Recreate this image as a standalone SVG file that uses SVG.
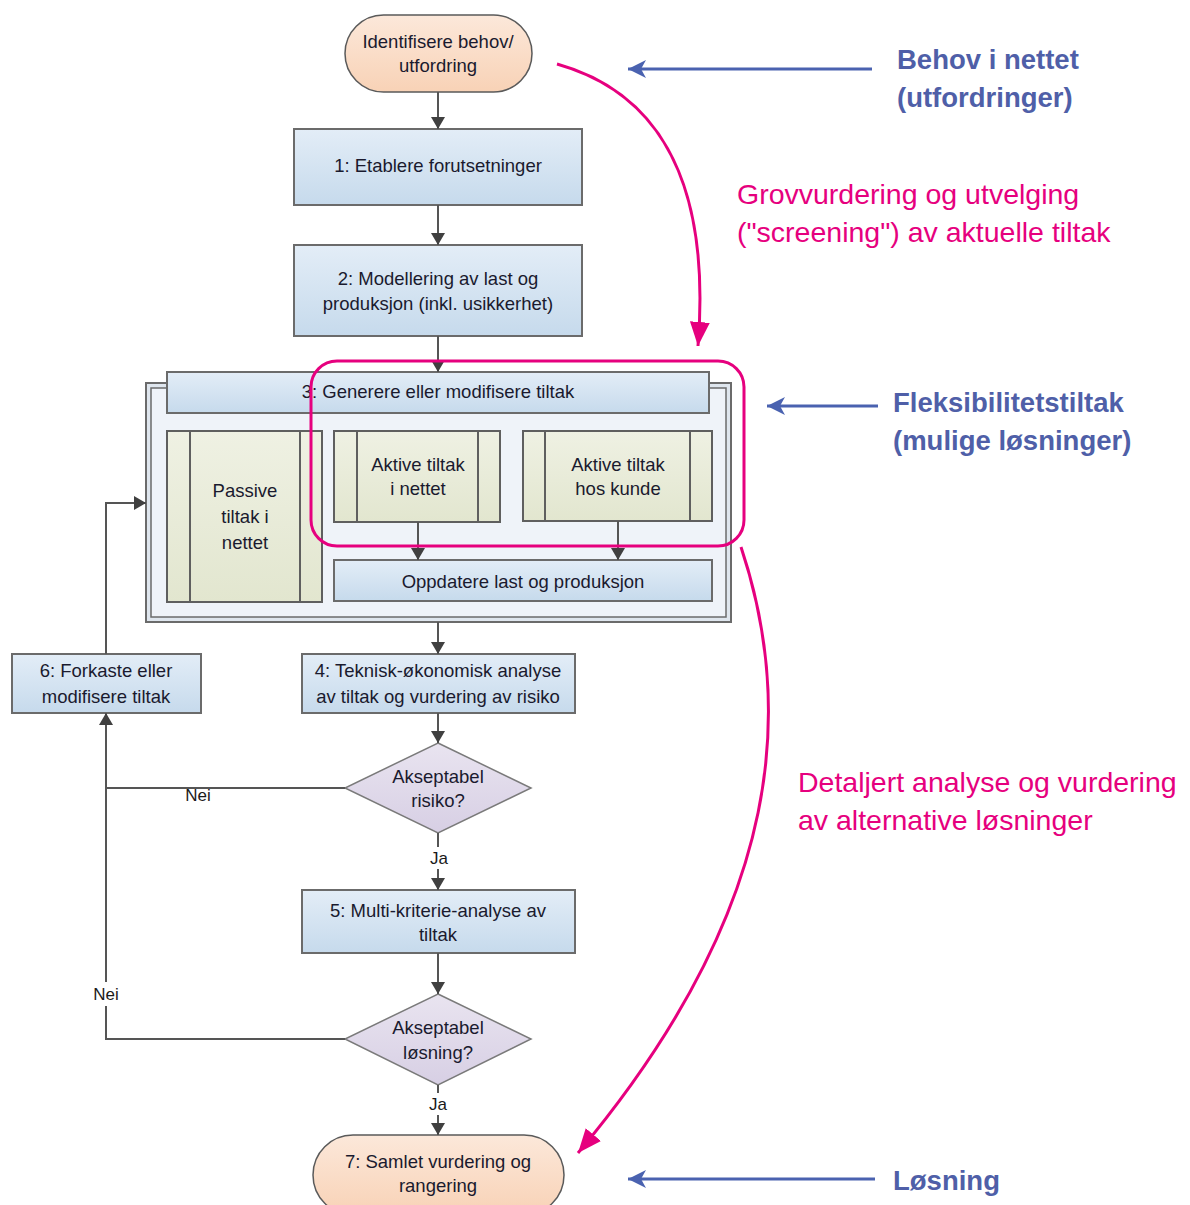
<svg xmlns="http://www.w3.org/2000/svg" width="1190" height="1205" viewBox="0 0 1190 1205">
<defs>
<linearGradient id="gBlue" x1="0" y1="0" x2="0" y2="1"><stop offset="0" stop-color="#e3edf7"/><stop offset="1" stop-color="#c6daec"/></linearGradient>
<linearGradient id="gPeach" x1="0" y1="0" x2="0" y2="1"><stop offset="0" stop-color="#fce8da"/><stop offset="1" stop-color="#f8d2b6"/></linearGradient>
<linearGradient id="gLilac" x1="0" y1="0" x2="0" y2="1"><stop offset="0" stop-color="#e9e4f0"/><stop offset="1" stop-color="#d7cfe4"/></linearGradient>
<linearGradient id="gOlive" x1="0" y1="0" x2="0" y2="1"><stop offset="0" stop-color="#eff1e3"/><stop offset="1" stop-color="#e2e6cf"/></linearGradient>
<marker id="ah" viewBox="0 0 12 14" refX="12" refY="7" markerWidth="12" markerHeight="14" markerUnits="userSpaceOnUse" orient="auto"><path d="M0,0 L12,7 L0,14 Z" fill="#404040"/></marker>
<marker id="ahPink" viewBox="0 0 24 20" refX="24" refY="10" markerWidth="24" markerHeight="20" markerUnits="userSpaceOnUse" orient="auto"><path d="M0,0 L24,10 L0,20 Z" fill="#e6007e"/></marker>
<marker id="ahBlue" viewBox="0 0 18 18" refX="18" refY="9" markerWidth="18" markerHeight="18" markerUnits="userSpaceOnUse" orient="auto"><path d="M0,0 L18,9 L0,18 L5,9 Z" fill="#4a62b0"/></marker>
<style>
.t{font-family:"Liberation Sans",Arial,sans-serif;font-size:18.5px;fill:#1a1a2e;text-anchor:middle}
.box{fill:url(#gBlue);stroke:#6b6b6b;stroke-width:2}
.term{fill:url(#gPeach);stroke:#5a5a5a;stroke-width:1.5}
.dia{fill:url(#gLilac);stroke:#7a7a7a;stroke-width:1.5}
.sub{fill:url(#gOlive);stroke:#5f5f5f;stroke-width:2}
.ln{fill:none;stroke:#5f5f5f;stroke-width:2}
.c{fill:none;stroke:#555;stroke-width:2}
.ca{fill:none;stroke:#555;stroke-width:2;marker-end:url(#ah)}
.pink{fill:none;stroke:#e6007e;stroke-width:3}
.blue{fill:none;stroke:#4a62b0;stroke-width:3;marker-end:url(#ahBlue)}
.pt{font-family:"Liberation Sans",Arial,sans-serif;font-size:28.5px;fill:#e6007e}
.bt{font-family:"Liberation Sans",Arial,sans-serif;font-size:27.5px;font-weight:bold;fill:#4f5fa8}
.lbl{font-family:"Liberation Sans",Arial,sans-serif;font-size:17px;fill:#1a1a1a;text-anchor:middle}
</style>
</defs>
<rect width="1190" height="1205" fill="#ffffff"/>

<g id="container3">
<rect x="146" y="383" width="585" height="239" fill="#dfe6ee" stroke="#6b6b6b" stroke-width="2"/>
<rect x="151" y="388" width="575" height="229" fill="#eff3f9" stroke="#6b6b6b" stroke-width="1.5"/>
</g>
<g id="header3">
<rect class="box" x="167" y="372" width="542" height="41"/>
<text class="t" x="438" y="398">3: Generere eller modifisere tiltak</text>
</g>
<g id="passive">
<rect class="sub" x="167" y="431" width="155" height="171"/>
<line class="ln" x1="190" y1="431" x2="190" y2="602"/>
<line class="ln" x1="300" y1="431" x2="300" y2="602"/>
<text class="t" x="245" y="497">Passive</text>
<text class="t" x="245" y="523">tiltak i</text>
<text class="t" x="245" y="549">nettet</text>
</g>
<g id="aktivNett">
<rect class="sub" x="334" y="431" width="166" height="91"/>
<line class="ln" x1="357" y1="431" x2="357" y2="522"/>
<line class="ln" x1="478" y1="431" x2="478" y2="522"/>
<text class="t" x="418" y="471">Aktive tiltak</text>
<text class="t" x="418" y="495">i nettet</text>
</g>
<g id="aktivKunde">
<rect class="sub" x="523" y="431" width="189" height="90"/>
<line class="ln" x1="545" y1="431" x2="545" y2="521"/>
<line class="ln" x1="690" y1="431" x2="690" y2="521"/>
<text class="t" x="618" y="471">Aktive tiltak</text>
<text class="t" x="618" y="495">hos kunde</text>
</g>
<g id="oppdatere">
<rect class="box" x="334" y="560" width="378" height="41"/>
<text class="t" x="523" y="588">Oppdatere last og produksjon</text>
</g>

<g id="start">
<rect class="term" x="345" y="15" width="187" height="77" rx="38.5"/>
<text class="t" x="438" y="48">Identifisere behov/</text>
<text class="t" x="438" y="72">utfordring</text>
</g>
<g id="step1">
<rect class="box" x="294" y="129" width="288" height="76"/>
<text class="t" x="438" y="172">1: Etablere forutsetninger</text>
</g>
<g id="step2">
<rect class="box" x="294" y="245" width="288" height="91"/>
<text class="t" x="438" y="285">2: Modellering av last og</text>
<text class="t" x="438" y="310">produksjon (inkl. usikkerhet)</text>
</g>
<g id="step4">
<rect class="box" x="302" y="654" width="273" height="59"/>
<text class="t" x="438" y="677">4: Teknisk-økonomisk analyse</text>
<text class="t" x="438" y="703">av tiltak og vurdering av risiko</text>
</g>
<g id="step6">
<rect class="box" x="12" y="654" width="189" height="59"/>
<text class="t" x="106" y="677">6: Forkaste eller</text>
<text class="t" x="106" y="703">modifisere tiltak</text>
</g>
<g id="dec1">
<path class="dia" d="M438,743 L531,788 L438,833 L345,788 Z"/>
<text class="t" x="438" y="783">Akseptabel</text>
<text class="t" x="438" y="807">risiko?</text>
</g>
<g id="step5">
<rect class="box" x="302" y="890" width="273" height="63"/>
<text class="t" x="438" y="917">5: Multi-kriterie-analyse av</text>
<text class="t" x="438" y="941">tiltak</text>
</g>
<g id="dec2">
<path class="dia" d="M438,994 L531,1039 L438,1085 L345,1039 Z"/>
<text class="t" x="438" y="1034">Akseptabel</text>
<text class="t" x="438" y="1059">løsning?</text>
</g>
<g id="end">
<rect class="term" x="313" y="1135" width="251" height="80" rx="40"/>
<text class="t" x="438" y="1168">7: Samlet vurdering og</text>
<text class="t" x="438" y="1192">rangering</text>
</g>

<g id="connectors">
<line class="ca" x1="438" y1="92" x2="438" y2="129"/>
<line class="ca" x1="438" y1="205" x2="438" y2="245"/>
<line class="ca" x1="438" y1="336" x2="438" y2="372"/>
<line class="ca" x1="418" y1="522" x2="418" y2="560"/>
<line class="ca" x1="618" y1="521" x2="618" y2="560"/>
<line class="ca" x1="438" y1="622" x2="438" y2="654"/>
<line class="ca" x1="438" y1="713" x2="438" y2="743"/>
<polyline class="ca" points="106,654 106,503 146,503"/>
<polyline class="c" points="345,788 106,788"/>
<line class="ca" x1="438" y1="833" x2="438" y2="890"/>
<line class="ca" x1="438" y1="953" x2="438" y2="994"/>
<polyline class="ca" points="345,1039 106,1039 106,713"/>
<line class="ca" x1="438" y1="1085" x2="438" y2="1135"/>
<rect x="88" y="982" width="36" height="24" fill="#ffffff"/>
<text class="lbl" x="198" y="801">Nei</text>
<text class="lbl" x="106" y="1000">Nei</text>
<rect x="426" y="847" width="24" height="22" fill="#ffffff"/>
<text class="lbl" x="439" y="864">Ja</text>
<rect x="426" y="1093" width="24" height="22" fill="#ffffff"/>
<text class="lbl" x="438" y="1110">Ja</text>
</g>

<g id="annotations">
<rect class="pink" x="311" y="361" width="433" height="185" rx="26"/>
<path class="pink" d="M557,64 C650,90 712,170 698,346" marker-end="url(#ahPink)"/>
<path class="pink" d="M741,547 C792,700 790,900 578,1153" marker-end="url(#ahPink)"/>
<line class="blue" x1="872" y1="69" x2="628" y2="69"/>
<line class="blue" x1="878" y1="406" x2="767" y2="406"/>
<line class="blue" x1="875" y1="1179" x2="628" y2="1179"/>
<text class="bt" x="897" y="69">Behov i nettet</text>
<text class="bt" x="897" y="107">(utfordringer)</text>
<text class="bt" x="893" y="412">Fleksibilitetstiltak</text>
<text class="bt" x="893" y="450">(mulige løsninger)</text>
<text class="bt" x="893" y="1190">Løsning</text>
<text class="pt" x="737" y="204">Grovvurdering og utvelging</text>
<text class="pt" x="737" y="242">("screening") av aktuelle tiltak</text>
<text class="pt" x="798" y="792">Detaljert analyse og vurdering</text>
<text class="pt" x="798" y="830">av alternative løsninger</text>
</g>
</svg>
